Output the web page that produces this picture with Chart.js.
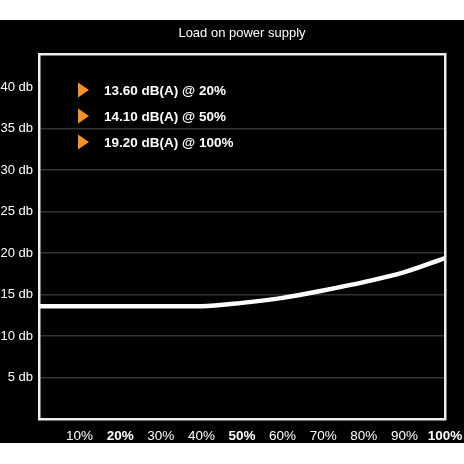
<!DOCTYPE html>
<html>
<head>
<meta charset="utf-8">
<script src="https://cdn.jsdelivr.net/npm/chart.js@4"></script>
<style>
  html, body { margin: 0; padding: 0; background: #fff; }
  #wrap { position: absolute; left: 0; top: 20px; width: 464px; height: 423px; background: #000; }
  canvas { display: block; }
</style>
</head>
<body>
<div id="wrap"><canvas id="noise" width="464" height="423"></canvas></div>
<script>
  // load (%) vs fan noise (db)
  const loads = [0, 10, 20, 30, 40, 50, 60, 70, 80, 90, 100];
  const noise = [13.6, 13.6, 13.6, 13.6, 13.6, 14.0, 14.6, 15.5, 16.5, 17.7, 19.4];

  const xTicks = [10, 20, 30, 40, 50, 60, 70, 80, 90, 100];
  const boldLoads = [20, 50, 100];
  const yTicks = [5, 10, 15, 20, 25, 30, 35, 40];
  const hiddenGrid = [40];

  const legendLevels = [13.6, 14.1, 19.2];
  const legendLoads = [20, 50, 100];

  const FONT = "'Liberation Sans', Arial, Helvetica, sans-serif";

  const legendInside = {
    id: "legendInside",
    afterDatasetsDraw(chart) {
      const { ctx, chartArea } = chart;
      ctx.save();
      ctx.font = "bold 13.5px " + FONT;
      ctx.textBaseline = "middle";
      legendLevels.forEach((v, i) => {
        const y = chartArea.top + 36 + i * 26;
        const x = chartArea.left + 39;
        ctx.fillStyle = "#f0932b";
        ctx.beginPath();
        ctx.moveTo(x, y - 7.5);
        ctx.lineTo(x + 11, y);
        ctx.lineTo(x, y + 7.5);
        ctx.closePath();
        ctx.fill();
        ctx.fillStyle = "#fff";
        ctx.fillText(`${v.toFixed(2)} dB(A) @ ${legendLoads[i]}%`, x + 26, y + 1);
      });
      ctx.restore();
    },
  };

  new Chart(document.getElementById("noise"), {
    type: "line",
    data: {
      datasets: [
        {
          data: loads.map((l, i) => ({ x: l, y: noise[i] })),
          borderColor: "#fff",
          borderWidth: 4.5,
          pointRadius: 0,
          cubicInterpolationMode: "monotone",
          xAxisID: "x",
          yAxisID: "y",
        },
      ],
    },
    options: {
      responsive: false,
      animation: false,
      layout: { padding: 0 },
      plugins: { legend: { display: false }, tooltip: { enabled: false } },
      scales: {
        x: {
          type: "linear",
          position: "bottom",
          min: 0,
          max: 100,
          afterBuildTicks: (s) => { s.ticks = xTicks.map((v) => ({ value: v })); },
          afterFit: (s) => { s.height = 24; s.paddingLeft = 0; s.paddingRight = 0; },
          grid: { display: false },
          border: { color: "#eee", width: 2.5 },
          ticks: {
            color: "#fff",
            padding: 1,
            autoSkip: false,
            maxRotation: 0,
            callback: (v) => v + "%",
            font: (c) => ({
              family: FONT,
              size: 13.5,
              weight: c.tick && boldLoads.includes(c.tick.value) ? "bold" : "normal",
            }),
          },
        },
        xTop: {
          type: "linear",
          position: "top",
          min: 0,
          max: 100,
          afterFit: (s) => { s.height = 34; },
          grid: { display: false },
          border: { color: "#eee", width: 2.5 },
          ticks: { display: false },
          title: {
            display: true,
            text: "Load on power supply",
            color: "#fff",
            font: { family: FONT, size: 13 },
            padding: { top: 6, bottom: 0 },
          },
        },
        y: {
          position: "left",
          min: 0,
          max: 44,
          afterBuildTicks: (s) => { s.ticks = yTicks.map((v) => ({ value: v })); },
          afterFit: (s) => { s.width = 39; },
          border: { color: "#eee", width: 2.5 },
          grid: {
            drawTicks: false,
            color: (c) => (c.tick && hiddenGrid.includes(c.tick.value) ? "rgba(0,0,0,0)" : "#333"),
            lineWidth: 1.5,
          },
          ticks: {
            color: "#fff",
            padding: 6,
            font: { family: FONT, size: 13 },
            callback: (v) => v + " db",
          },
        },
        yRight: {
          position: "right",
          min: 0,
          max: 44,
          afterFit: (s) => { s.width = 19; },
          grid: { display: false },
          border: { color: "#eee", width: 2.5 },
          ticks: { display: false },
        },
      },
    },
    plugins: [legendInside],
  });
</script>
</body>
</html>
